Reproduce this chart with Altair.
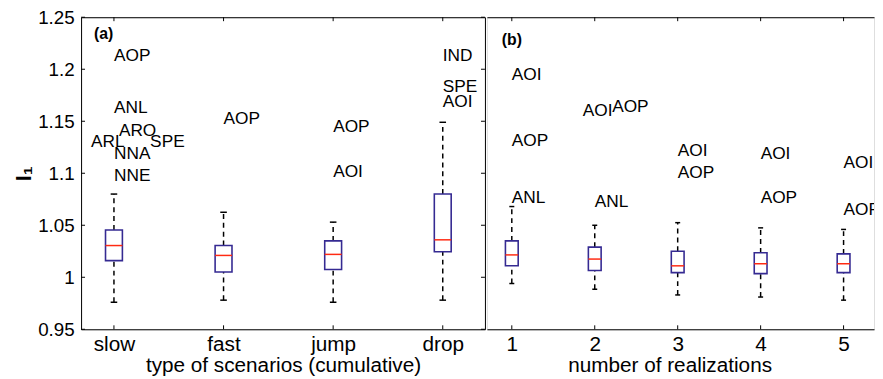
import altair as alt
import pandas as pd

FONT = "Liberation Sans"
BOX_COLOR = "#352a92"
MED_COLOR = "#ff2a12"

# ---------------- panel (a) ----------------
a_names = ["slow", "fast", "jump", "drop"]
a_pos = [1, 2, 3, 4]
a_lo = [0.976, 0.978, 0.976, 0.978]
a_q1 = [1.016, 1.005, 1.0075, 1.0245]
a_med = [1.0305, 1.021, 1.022, 1.036]
a_q3 = [1.0455, 1.0305, 1.035, 1.080]
a_hi = [1.080, 1.0625, 1.053, 1.149]

a_lab_text = ["AOP", "ANL", "ARO", "ARL", "SPE", "NNA", "NNE",
              "AOP", "AOP", "AOI", "IND", "SPE", "AOI"]
a_lab_x = [1, 1, 1.045, 0.79, 1.33, 1, 1, 2, 3, 3, 4, 4, 4]
a_lab_y = [1.213, 1.163, 1.141, 1.130, 1.130, 1.118, 1.097,
           1.152, 1.144, 1.101, 1.213, 1.183, 1.168]

# ---------------- panel (b) ----------------
b_names = ["1", "2", "3", "4", "5"]
b_pos = [1, 2, 3, 4, 5]
b_lo = [0.994, 0.9885, 0.983, 0.981, 0.978]
b_q1 = [1.011, 1.0065, 1.0045, 1.0035, 1.0045]
b_med = [1.0215, 1.0175, 1.011, 1.013, 1.013]
b_q3 = [1.035, 1.029, 1.025, 1.0235, 1.0225]
b_hi = [1.068, 1.050, 1.0525, 1.0475, 1.046]

b_lab_text = ["AOI", "AOP", "ANL", "AOI", "AOP", "ANL",
              "AOI", "AOP", "AOI", "AOP", "AOI", "AOP"]
b_lab_x = [1, 1, 1, 1.855, 2.21, 2, 3, 3, 4, 4, 5, 5]
b_lab_y = [1.194, 1.131, 1.076, 1.160, 1.164, 1.072,
           1.121, 1.100, 1.118, 1.076, 1.110, 1.065]

y_ticks = [0.95, 1.0, 1.05, 1.1, 1.15, 1.2, 1.25]
Y_DOMAIN = [0.95, 1.25]
H = 316
HALF_BOX = 0.077
HALF_CAP = 0.03


def make_panel(names, pos, lo, q1, med, q3, hi, lab_text, lab_x, lab_y,
               x_domain, width, x_title, title_x, letter, letter_x, letter_y,
               left_axis, right_border):
    boxes = pd.DataFrame(dict(pos=pos, lo=lo, q1=q1, med=med, q3=q3, hi=hi))
    labels = pd.DataFrame(dict(t=lab_text, x=lab_x, y=lab_y))
    ticks = pd.DataFrame(dict(v=y_ticks))
    xs = alt.Scale(domain=x_domain, nice=False, zero=False)
    ys = alt.Scale(domain=Y_DOMAIN, nice=False, zero=False)
    label_expr = "[" + ",".join("'%s'" % n for n in names) + "][datum.value - 1]"

    x_axis = alt.Axis(values=pos, labelExpr=label_expr, title=x_title, grid=False,
                      ticks=False, domainColor="black", domainWidth=1,
                      labelFont=FONT, labelFontSize=21, labelColor="black",
                      labelPadding=4, labelAngle=0,
                      titleFont=FONT, titleFontSize=21, titleFontWeight="normal",
                      titleColor="black", titlePadding=1,
                      titleX=title_x, titleAlign="center")
    if left_axis:
        y_axis = alt.Axis(values=y_ticks, format="~g", title="I₁", grid=False,
                          ticks=False, domainColor="black", domainWidth=1,
                          labelFont=FONT, labelFontSize=19, labelColor="black",
                          labelPadding=7, titleFont=FONT, titleFontSize=22,
                          titleFontWeight="bold", titleColor="black", titlePadding=2)
    else:
        y_axis = None

    base = alt.Chart(boxes).transform_calculate(
        bl="datum.pos - %f" % HALF_BOX, br="datum.pos + %f" % HALF_BOX,
        cl="datum.pos - %f" % HALF_CAP, cr="datum.pos + %f" % HALF_CAP)

    whisk_hi = base.mark_rule(color="black", strokeWidth=1.5, strokeDash=[5, 4]).encode(
        x=alt.X("pos:Q", scale=xs, axis=None),
        y=alt.Y("q3:Q", scale=ys, axis=None), y2="hi:Q")
    whisk_lo = base.mark_rule(color="black", strokeWidth=1.5, strokeDash=[5, 4]).encode(
        x=alt.X("pos:Q", scale=xs, axis=None),
        y=alt.Y("lo:Q", scale=ys, axis=None), y2="q1:Q")
    cap_hi = base.mark_rule(color="black", strokeWidth=1.5).encode(
        x=alt.X("cl:Q", scale=xs, axis=None), x2="cr:Q",
        y=alt.Y("hi:Q", scale=ys, axis=None))
    cap_lo = base.mark_rule(color="black", strokeWidth=1.5).encode(
        x=alt.X("cl:Q", scale=xs, axis=None), x2="cr:Q",
        y=alt.Y("lo:Q", scale=ys, axis=None))
    box = base.mark_rect(fill="white", stroke=BOX_COLOR, strokeWidth=1.6).encode(
        x=alt.X("bl:Q", scale=xs, axis=x_axis), x2="br:Q",
        y=alt.Y("q1:Q", scale=ys, axis=y_axis), y2="q3:Q")
    median = base.mark_rule(color=MED_COLOR, strokeWidth=1.5).encode(
        x=alt.X("bl:Q", scale=xs, axis=None), x2="br:Q",
        y=alt.Y("med:Q", scale=ys, axis=None))

    text = alt.Chart(labels).mark_text(
        align="left", baseline="middle", font=FONT, fontSize=17.5,
        color="black", clip=True).encode(
        x=alt.X("x:Q", scale=xs, axis=None),
        y=alt.Y("y:Q", scale=ys, axis=None), text="t:N")

    top_ticks = base.mark_rule(color="black", strokeWidth=1).encode(
        x=alt.X("pos:Q", scale=xs,
                axis=alt.Axis(orient="top", labels=False, ticks=False, title=None,
                              grid=False, domainColor="black", domainWidth=1)),
        y=alt.value(0), y2=alt.value(4))
    bot_ticks = base.mark_rule(color="black", strokeWidth=1).encode(
        x=alt.X("pos:Q", scale=xs, axis=None),
        y=alt.value(H), y2=alt.value(H - 4))

    layers = [whisk_hi, whisk_lo, cap_hi, cap_lo, box, median, text, top_ticks, bot_ticks]

    if left_axis:
        left_ticks = alt.Chart(ticks).mark_rule(color="black", strokeWidth=1).encode(
            y=alt.Y("v:Q", scale=ys, axis=None), x=alt.value(0), x2=alt.value(4))
        layers.append(left_ticks)
    if right_border:
        right_ticks = alt.Chart(ticks).mark_rule(color="black", strokeWidth=1).encode(
            y=alt.Y("v:Q", scale=ys,
                    axis=alt.Axis(orient="right", labels=False, ticks=False, title=None,
                                  grid=False, domainColor="black", domainWidth=1)),
            x=alt.value(width), x2=alt.value(width - 4))
        layers.append(right_ticks)

    letter_df = pd.DataFrame(dict(t=[letter]))
    letter_mark = alt.Chart(letter_df).mark_text(
        align="left", baseline="middle", font=FONT, fontSize=16,
        fontWeight="bold", color="black").encode(
        text="t:N", x=alt.value(letter_x), y=alt.value(letter_y))
    layers.append(letter_mark)

    return alt.layer(*layers).resolve_axis(x="independent", y="independent").properties(
        width=width, height=H)


panel_a = make_panel(a_names, a_pos, a_lo, a_q1, a_med, a_q3, a_hi,
                     a_lab_text, a_lab_x, a_lab_y,
                     [0.7, 4.385], 409, "type of scenarios (cumulative)", 204.5,
                     "(a)", 13, 17, True, True)
panel_b = make_panel(b_names, b_pos, b_lo, b_q1, b_med, b_q3, b_hi,
                     b_lab_text, b_lab_x, b_lab_y,
                     [0.7, 5.367], 392, "number of realizations", 185,
                     "(b)", 15, 23, False, False)

chart = alt.hconcat(panel_a, panel_b, spacing=0).properties(
    padding={"left": 4, "top": -3, "right": 0, "bottom": 0}
).configure_view(stroke=None).configure(background="white")

chart.save("out.html", embed_options={"renderer": "svg", "actions": False})
